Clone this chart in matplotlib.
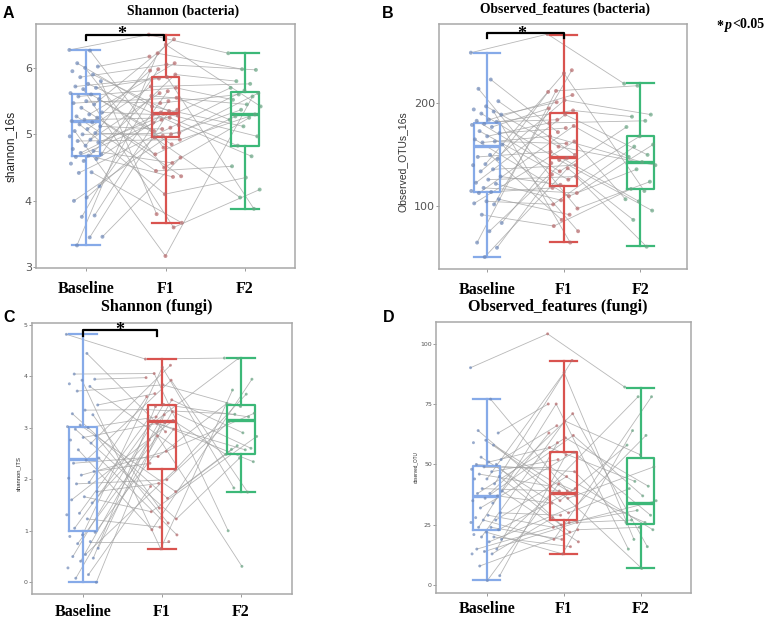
import numpy as np
import matplotlib.pyplot as plt

groups = ["Baseline", "F1", "F2"]
box_colors = ["#86aae8", "#d9534f", "#3cb878"]
dot_colors = ["#6f89b8", "#b86a6c", "#68a583"]

# A: Shannon (bacteria)
a_base = [6.27, 6.26, 6.07, 6.02, 6.0, 5.95, 5.9, 5.86, 5.8, 5.76, 5.72, 5.7, 5.68, 5.62, 5.6,
          5.57, 5.53, 5.5, 5.47, 5.45, 5.4, 5.33, 5.3, 5.27, 5.25, 5.22, 5.2, 5.18, 5.15, 5.12,
          5.08, 5.05, 5.02, 5.0, 4.97, 4.92, 4.9, 4.88, 4.83, 4.78, 4.75, 4.72, 4.7, 4.68, 4.66,
          4.63, 4.6, 4.56, 4.43, 4.42, 4.22, 4.05, 4.0, 3.78, 3.76, 3.46, 3.45, 3.33]
a_f1 = [6.5, 6.43, 6.35, 6.22, 6.17, 6.07, 6.05, 5.98, 5.96, 5.9, 5.86, 5.84, 5.72, 5.7, 5.65,
        5.62, 5.58, 5.55, 5.5, 5.47, 5.42, 5.37, 5.35, 5.33, 5.3, 5.28, 5.25, 5.22, 5.18, 5.14,
        5.1, 5.08, 5.05, 5.02, 5.0, 4.98, 4.95, 4.92, 4.85, 4.8, 4.7, 4.65, 4.57, 4.5, 4.45,
        4.37, 4.36, 4.1, 3.8, 3.67, 3.6, 3.17]
a_f2 = [6.22, 5.98, 5.97, 5.8, 5.76, 5.7, 5.66, 5.62, 5.6, 5.57, 5.52, 5.45, 5.42, 5.37, 5.3,
        5.27, 5.25, 5.22, 5.12, 4.97, 4.83, 4.67, 4.52, 4.35, 4.17, 4.05, 3.88]
a_whishi = [6.27, 6.49, 6.23]
a_q3 = [5.6, 5.86, 5.63]
a_med = [5.2, 5.32, 5.31]
a_q1 = [4.68, 4.96, 4.83]
a_whislo = [3.33, 3.67, 3.88]

# B: Observed_features (bacteria)
b_base = [249, 223, 214, 202, 197, 194, 192, 190, 189, 184, 183, 182, 180, 179, 177, 173, 171,
          168, 165, 163, 162, 160, 150, 148, 146, 141, 140, 136, 134, 129, 126, 123, 122, 118,
          115, 114, 113, 107, 105, 103, 102, 92, 84, 76, 65, 60, 51]
b_f1 = [267, 232, 229, 212, 211, 208, 203, 201, 195, 193, 189, 184, 181, 178, 176, 172, 168,
        163, 161, 158, 153, 150, 147, 145, 142, 140, 137, 134, 131, 129, 126, 121, 118, 113,
        110, 106, 102, 98, 92, 87, 81, 76, 65]
b_f2 = [219, 217, 189, 187, 183, 177, 168, 160, 158, 150, 148, 143, 140, 136, 124, 117, 115,
        107, 105, 96, 87, 61]
b_whishi = [248.4, 266.5, 219.4]
b_q3 = [180.6, 190.3, 168.4]
b_med = [159, 147.7, 142.6]
b_q1 = [113.9, 120, 116.8]
b_whislo = [50.6, 65.2, 61.3]

# C: Shannon (fungi)
c_base = [4.81, 4.44, 4.04, 3.94, 3.92, 3.85, 3.8, 3.71, 3.44, 3.34, 3.27, 3.25, 3.05, 3.02,
          3.0, 2.97, 2.84, 2.81, 2.76, 2.7, 2.57, 2.41, 2.37, 2.31, 2.15, 2.08, 2.02, 1.94, 1.91,
          1.76, 1.66, 1.6, 1.54, 1.34, 1.31, 1.23, 1.05, 0.97, 0.92, 0.89, 0.79, 0.75, 0.66,
          0.54, 0.5, 0.47, 0.41, 0.28, 0.15, 0.08, 0.0]
c_f1 = [4.33, 4.21, 4.17, 4.05, 3.97, 3.92, 3.83, 3.66, 3.6, 3.54, 3.45, 3.41, 3.35, 3.31,
        3.25, 3.21, 3.16, 3.14, 3.1, 3.08, 3.03, 2.97, 2.92, 2.84, 2.76, 2.63, 2.54, 2.44, 2.31,
        2.18, 1.99, 1.92, 1.86, 1.76, 1.63, 1.44, 1.37, 1.23, 1.15, 1.07, 1.02, 0.92, 0.79, 0.65]
c_f2 = [4.35, 4.34, 3.94, 3.73, 3.65, 3.47, 3.41, 3.28, 3.26, 3.21, 3.12, 2.9, 2.83, 2.65,
        2.6, 2.58, 2.57, 2.48, 2.41, 2.34, 1.83, 1.75, 1.0, 0.31]
c_whishi = [4.81, 4.33, 4.35]
c_q3 = [3.02, 3.43, 3.44]
c_med = [2.39, 3.12, 3.14]
c_q1 = [1.0, 2.19, 2.48]
c_whislo = [0.0, 0.645, 1.75]

# D: Observed_features (fungi)
d_base = [90, 77, 64, 63, 60, 59, 58, 53, 52, 51, 50, 50, 49, 48, 47, 46, 45, 44, 44, 42, 40,
          39, 38, 38, 37, 36, 35, 34, 32, 30, 29, 28, 27, 27, 26, 24, 24, 23, 22, 21, 20, 20,
          19, 18, 15, 15, 14, 13, 13, 8, 4, 2]
d_f1 = [104, 93, 88, 75, 75, 71, 68, 66, 63, 62, 61, 59, 57, 55, 54, 52, 49, 47, 45, 42, 41,
        40, 39, 39, 38, 37, 36, 35, 34, 33, 30, 29, 28, 26, 26, 25, 24, 23, 22, 19, 19, 18, 16, 13]
d_f2 = [82, 78, 78, 64, 62, 58, 54, 49, 43, 41, 40, 37, 35, 31, 29, 27, 26, 26, 24, 23, 19,
        16, 15, 7]
d_whishi = [77, 92.8, 81.8]
d_q3 = [49.4, 55.3, 52.8]
d_med = [37, 38.2, 34.2]
d_q1 = [23, 27.1, 25.4]
d_whislo = [2.06, 13.1, 7.15]

W, H = 767, 621
fig = plt.figure(figsize=(W / 100, H / 100), dpi=100)

SERIF = "Liberation Serif"
SANS = "Liberation Sans"


def px_axes(x0, y0, x1, y1):
    # pixel box (top-left origin) -> figure axes
    return fig.add_axes([x0 / W, 1 - y1 / H, (x1 - x0) / W, (y1 - y0) / H])


def spread(n, c):
    # deterministic, evenly scattered ordering (used for jitter and pairing)
    return (np.arange(n) * c) % 1.0


def draw_panel(ax, data, whishi, q3, med, q1, whislo, ylim, xlim, dot_s, tick_fs, yticks):
    xs, ys = [], []
    for k, vals in enumerate(data):
        y = np.asarray(vals, float)
        x = k + 1 + (spread(len(y), [0.618034, 0.754878, 0.414214][k]) - 0.5) * 0.42
        xs.append(x)
        ys.append(y)

    # paired lines Baseline -> F1 and F1 -> F2
    m = min(len(ys[0]), len(ys[1]))
    i0 = np.argsort(spread(len(ys[0]), 0.381966))[:m]
    i1 = np.argsort(spread(len(ys[1]), 0.292893))[:m]
    for a, b in zip(i0, i1):
        ax.plot([xs[0][a], xs[1][b]], [ys[0][a], ys[1][b]], color="#a0a0a0",
                lw=0.6, alpha=0.75, zorder=2)
    m2 = min(len(ys[1]), len(ys[2]))
    j1 = np.argsort(spread(len(ys[1]), 0.7071))[:m2]
    j2 = np.argsort(spread(len(ys[2]), 0.2360))[:m2]
    for a, b in zip(j1, j2):
        ax.plot([xs[1][a], xs[2][b]], [ys[1][a], ys[2][b]], color="#a0a0a0",
                lw=0.6, alpha=0.75, zorder=2)

    stats = [dict(med=med[k], q1=q1[k], q3=q3[k], whislo=whislo[k], whishi=whishi[k],
                  fliers=[]) for k in range(3)]
    bp = ax.bxp(stats, positions=[1, 2, 3], widths=0.35, capwidths=0.35,
                showfliers=False, manage_ticks=False, zorder=3)
    for k in range(3):
        c = box_colors[k]
        bp["boxes"][k].set(color=c, lw=1.6)
        bp["medians"][k].set(color=c, lw=2.4)
        for part in ("whiskers", "caps"):
            for line in bp[part][2 * k:2 * k + 2]:
                line.set(color=c, lw=1.6)

    for k in range(3):
        ax.scatter(xs[k], ys[k], s=dot_s, color=dot_colors[k], alpha=0.7,
                   edgecolors="none", zorder=4)

    ax.set_xlim(*xlim)
    ax.set_ylim(*ylim)
    ax.set_xticks([1, 2, 3])
    ax.set_xticklabels(groups, fontfamily=SERIF, fontweight="bold", fontsize=11.5,
                       color="black")
    ax.set_yticks(yticks)
    ax.tick_params(axis="y", labelsize=tick_fs, colors="#8c8c8c", labelcolor="#555555",
                   length=2, width=0.6, pad=1)
    ax.tick_params(axis="x", colors="#8c8c8c", labelcolor="black", length=2.5,
                   width=0.6, pad=7)
    for s in ax.spines.values():
        s.set_color("#a8a8a8")
        s.set_linewidth(1.1)
    ax.set_facecolor("white")


def bracket(ax, x1, x2, y_hi, y_lo, star_y):
    ax.plot([1, 1, x2, x2], [y_lo, y_hi, y_hi, y_lo], color="black", lw=1.6, zorder=5,
            clip_on=False)
    ax.text(x1, star_y, "*", ha="center", va="baseline", fontsize=13, fontweight="bold",
            fontfamily=SERIF, zorder=6)


# panel A
axA = px_axes(36, 24, 295, 268)
draw_panel(axA, [a_base, a_f1, a_f2], a_whishi, a_q3, a_med, a_q1, a_whislo,
           (2.99, 6.66), (0.37, 3.63), 8, 8, [3, 4, 5, 6])
axA.set_ylabel("shannon_16s", fontsize=8.5, fontfamily=SANS, color="#222222")
axA.yaxis.set_label_coords(-0.075, 0.5)
bracket(axA, 1.45, 1.98, 6.49, 6.42, 6.43)

# panel B
axB = px_axes(439, 24, 687, 269)
draw_panel(axB, [b_base, b_f1, b_f2], b_whishi, b_q3, b_med, b_q1, b_whislo,
           (39.4, 276.8), (0.374, 3.61), 8, 8, [100, 200])
axB.set_ylabel("Observed_OTUs_16s", fontsize=7.5, fontfamily=SANS, color="#333333")
axB.yaxis.set_label_coords(-0.125, 0.44)
bracket(axB, 1.45, 2.0, 267.7, 263.0, 262.0)

# panel C
axC = px_axes(32, 323, 292, 594)
draw_panel(axC, [c_base, c_f1, c_f2], c_whishi, c_q3, c_med, c_q1, c_whislo,
           (-0.226, 5.03), (0.355, 3.645), 4.5, 4.5, [0, 1, 2, 3, 4, 5])
axC.set_ylabel("shannon_ITS", fontsize=4.2, fontfamily=SANS, color="#222222")
axC.yaxis.set_label_coords(-0.04, 0.446)
axC.tick_params(axis="x", pad=4.5)
bracket(axC, 1.47, 1.94, 4.9, 4.78, 4.8)

# panel D
axD = px_axes(436, 322, 691, 593)
draw_panel(axD, [d_base, d_f1, d_f2], d_whishi, d_q3, d_med, d_q1, d_whislo,
           (-3.16, 108.9), (0.342, 3.65), 4.5, 4.5, [0, 25, 50, 75, 100])
axD.set_ylabel("observed_OTU", fontsize=3.3, fontfamily=SANS, color="#222222")
axD.yaxis.set_label_coords(-0.07, 0.465)
axD.tick_params(axis="x", pad=3.5)

# titles and panel letters
titles = [("Shannon (bacteria)", 183, 11, 9.8), ("Observed_features (bacteria)", 565, 9, 9.8),
          ("Shannon (fungi)", 157, 307, 11.6), ("Observed_features (fungi)", 558, 307, 11.6)]
for txt, x, y, fs in titles:
    fig.text(x / W, 1 - y / H, txt, ha="center", va="center", fontsize=fs,
             fontweight="bold", fontfamily=SERIF)

for lab, x, y in [("A", 3, 14), ("B", 382, 13), ("C", 3, 317), ("D", 383, 317)]:
    fig.text(x / W, 1 - y / H, lab, ha="left", va="center", fontsize=11.5,
             fontweight="bold", fontfamily=SANS)

# significance note
fig.text(716 / W, 1 - 26 / H, "*", ha="left", va="center", fontsize=10,
         fontweight="bold", fontfamily=SERIF)
fig.text(725 / W, 1 - 25 / H, "p", ha="left", va="center", fontsize=10,
         fontweight="bold", fontstyle="italic", fontfamily=SERIF)
fig.text(732 / W, 1 - 25 / H, "<0.05", ha="left", va="center", fontsize=10,
         fontweight="bold", fontfamily=SERIF)

fig.savefig("out.png", dpi=100, facecolor="white")
